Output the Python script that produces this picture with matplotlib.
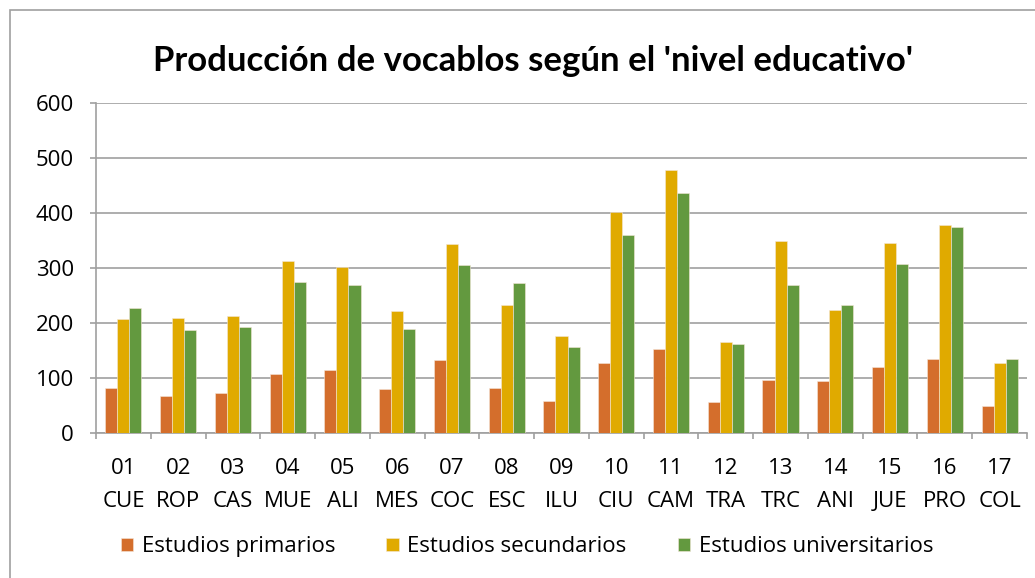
import matplotlib
matplotlib.use("Agg")
import matplotlib.pyplot as plt
import numpy as np
from matplotlib.patches import Rectangle

codes = ["01", "02", "03", "04", "05", "06", "07", "08", "09", "10",
         "11", "12", "13", "14", "15", "16", "17"]
names = ["CUE", "ROP", "CAS", "MUE", "ALI", "MES", "COC", "ESC", "ILU", "CIU",
         "CAM", "TRA", "TRC", "ANI", "JUE", "PRO", "COL"]
primarios = [81, 67, 73, 107, 115, 80, 132, 81, 58, 127, 152, 56, 96, 94, 120, 135, 50]
secundarios = [208, 210, 212, 313, 301, 221, 343, 232, 177, 402, 478, 165, 349, 223, 345, 379, 127]
universitarios = [227, 187, 192, 274, 269, 190, 305, 272, 156, 360, 436, 161, 269, 233, 307, 375, 135]
series_names = ["Estudios primarios", "Estudios secundarios", "Estudios universitarios"]
colors = ["#D46E2C", "#E0AA00", "#63993F"]

plt.rcParams['font.family'] = ['Open Sans', 'DejaVu Sans']

fig = plt.figure(figsize=(10.35, 5.78), dpi=100)
ax = fig.add_axes([96/1035, 1 - 433/578, (1027-96)/1035, (433-103)/578])

x = np.arange(len(codes))
w = 0.22
for i, (vals, name, c) in enumerate(zip([primarios, secundarios, universitarios], series_names, colors)):
    ax.bar(x + (i - 1) * w, vals, width=w, color=c, label=name,
           edgecolor="#F4E6D8", linewidth=0.4, zorder=3)

ax.set_xlim(-0.5, len(codes) - 0.5)
ax.set_ylim(0, 600)
ax.set_yticks(range(0, 601, 100))
ax.yaxis.grid(True, color="#A0A0A0", linewidth=1.2, zorder=0)
ax.set_axisbelow(True)
for s in ["top", "right"]:
    ax.spines[s].set_visible(False)
for s in ["left", "bottom"]:
    ax.spines[s].set_color("#A0A0A0")
    ax.spines[s].set_linewidth(1.2)

ax.set_xticks(x)
ax.set_xticklabels([f"{c}\n{n}" for c, n in zip(codes, names)], fontsize=16, linespacing=1.75)
ax.set_xticks(np.arange(-0.5, len(codes), 1), minor=True)
ax.tick_params(axis="x", which="major", length=0, pad=18)
ax.tick_params(axis="x", which="minor", length=4.3, color="#A0A0A0", width=1.2)
ax.tick_params(axis="y", length=4, color="#A0A0A0", width=1.2, labelsize=16, pad=12)

fig.text(0.515, 1 - 71/578, "Producción de vocablos según el 'nivel educativo'",
         fontsize=25, fontweight="bold", family=['Lato', 'DejaVu Sans'],
         ha="center", va="baseline")

ax.legend(loc="center", bbox_to_anchor=(0.463, -0.345), ncol=3, frameon=False,
          fontsize=16, handlelength=0.55, handleheight=0.55, handletextpad=0.4,
          columnspacing=2.3)

fig.patches.append(Rectangle((10/1035, -0.1), 1.2, 1 - 10/578 + 0.1,
                             transform=fig.transFigure, fill=False,
                             edgecolor="#A0A0A0", linewidth=1.2))

fig.savefig("out.png", dpi=100)
